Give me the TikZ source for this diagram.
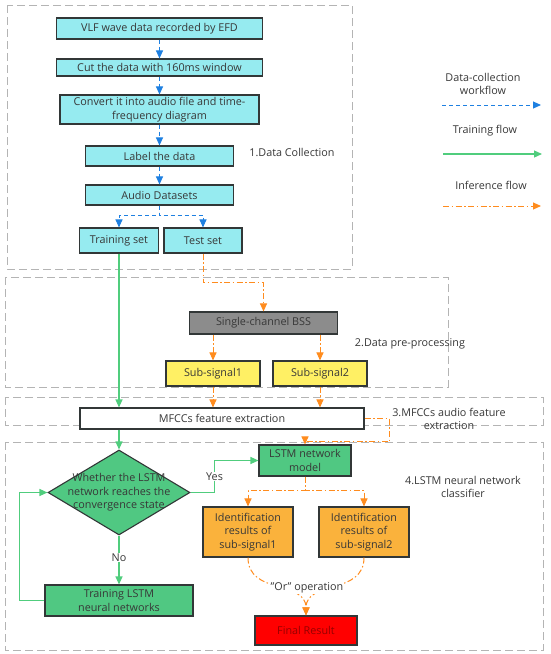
\documentclass[tikz,border=0pt]{standalone}
\usepackage{fontspec}
\setmainfont{Open Sans}
\usetikzlibrary{arrows.meta,shapes.geometric}

\definecolor{txt}{RGB}{55,55,55}
\definecolor{boxline}{RGB}{50,55,55}
\definecolor{regline}{RGB}{180,180,180}
\definecolor{cyanbox}{RGB}{150,235,240}
\definecolor{graybox}{RGB}{140,140,140}
\definecolor{yellowbox}{RGB}{255,240,100}
\definecolor{greenbox}{RGB}{80,200,130}
\definecolor{orangebox}{RGB}{250,178,60}
\definecolor{redbox}{RGB}{255,0,0}
\definecolor{redtxt}{RGB}{150,0,0}
\definecolor{blueflow}{RGB}{30,128,225}
\definecolor{greenflow}{RGB}{80,205,125}
\definecolor{orangeflow}{RGB}{255,140,30}

\begin{document}
\begin{tikzpicture}[x=1pt,y=-1pt,
  box/.style={draw=boxline, line width=1.1pt, text=txt, inner sep=1pt,
    align=center, font=\fontsize{10.8}{13.5}\selectfont},
  collect/.style={box, fill=cyanbox},
  tag/.style={text=txt, align=center, inner sep=1pt, font=\fontsize{10.8}{13.5}\selectfont},
  region/.style={draw=regline, line width=0.9pt, dash pattern=on 8pt off 4pt},
  bflow/.style={draw=blueflow, line width=1pt, dash pattern=on 4pt off 3pt,
    -{Triangle[length=8pt,width=7pt]}},
  gflow/.style={draw=greenflow, line width=1.2pt, -{Triangle[length=8pt,width=7pt]}},
  oflow/.style={draw=orangeflow, line width=1pt,
    dash pattern=on 6pt off 2.5pt on 1.5pt off 2.5pt,
    -{Triangle[length=8pt,width=7pt]}}
]
\useasboundingbox (0,0) rectangle (550,654);

  %% dashed regions
  \draw[region] (7,5) rectangle (352,269);
  \draw[region] (5,277) rectangle (448,387);
  \draw[region] (5,397) rectangle (543,425);
  \draw[region] (5,442) rectangle (543,650);

  \node[tag] (r1) at (292,152) {1.Data Collection};
  \node[tag] (r2) at (410,344) {2.Data pre-processing};
  \node[tag] (r3) at (449,419) {3.MFCCs audio feature\\extraction};
  \node[tag] (r4) at (463,487) {4.LSTM neural network\\classifier};

  %% 1. data collection
  \node[collect, minimum width=206pt, minimum height=21pt] (vlf) at (159.5,28.5) {VLF wave data recorded by EFD};
  \node[collect, minimum width=206pt, minimum height=17pt] (cut) at (159.5,67.5) {Cut the data with 160ms window};
  \node[collect, minimum width=199pt, minimum height=29pt] (conv) at (159.5,109.5) {Convert it into audio file and time-\\frequency diagram};
  \node[collect, minimum width=148pt, minimum height=20pt] (lab) at (159.5,156) {Label the data};
  \node[collect, minimum width=148pt, minimum height=20pt] (audio) at (159.5,195) {Audio Datasets};
  \node[collect, minimum width=79pt, minimum height=25pt] (train) at (119,240.5) {Training set};
  \node[collect, minimum width=78pt, minimum height=25pt] (test) at (203,240.5) {Test set};

  %% 2. pre-processing
  \node[box, fill=graybox, minimum width=148pt, minimum height=22pt] (bss) at (263.5,323) {Single-channel BSS};
  \node[box, fill=yellowbox, minimum width=94pt, minimum height=25pt] (sub1) at (213,373.5) {Sub-signal1};
  \node[box, fill=yellowbox, minimum width=94pt, minimum height=25pt] (sub2) at (320,373.5) {Sub-signal2};

  %% 3. features
  \node[box, fill=white, minimum width=284pt, minimum height=21pt] (mfcc) at (222,418.5) {MFCCs feature extraction};

  %% 4. classifier
  \node[draw=boxline, line width=1.1pt, fill=greenbox, diamond, inner sep=0pt,
    minimum width=142pt, minimum height=85pt] (dia) at (119,492.5) {};
  \node[tag] (diatxt) at (dia) {Whether the LSTM\\network reaches the\\convergence state};
  \node[box, fill=greenbox, minimum width=92pt, minimum height=31pt] (lstm) at (305,460.5) {LSTM network\\model};
  \node[box, fill=greenbox, minimum width=148pt, minimum height=31pt] (trainnet) at (119,600.5) {Training LSTM\\neural networks};
  \node[box, fill=orangebox, minimum width=90pt, minimum height=50pt] (id1) at (248,532) {Identification\\results of\\sub-signal1};
  \node[box, fill=orangebox, minimum width=90pt, minimum height=50pt] (id2) at (364,532) {Identification\\results of\\sub-signal2};
  \node[box, fill=redbox, text=redtxt, minimum width=102pt, minimum height=29pt] (fin) at (306,630.5) {Final Result};

  %% data-collection flow
  \draw[bflow] (vlf) -- (cut);
  \draw[bflow] (cut) -- (conv);
  \draw[bflow] (conv) -- (lab);
  \draw[bflow] (lab) -- (audio);
  \draw[bflow] (audio.south) -- ++(0,10) -| (train.north);
  \draw[bflow] (audio.south) -- ++(0,10) -| (test.north);

  %% training flow
  \draw[gflow] (train.south) -- (train.south |- mfcc.north);
  \draw[gflow] (dia.north |- mfcc.south) -- (dia.north);
  \draw[gflow] (dia.east) -- ++(24,0) |- (lstm.west) node[pos=0.25, tag, fill=white]{Yes};
  \draw[gflow] (dia.south) -- node[tag, fill=white, pos=0.45]{No} (trainnet.north);
  \draw[gflow] (trainnet.west) -- ++(-25,0) |- (dia.west);

  %% inference flow
  \draw[oflow] (test.south) -- ++(0,29) -| (bss.north);
  \draw[oflow] (sub1.north |- bss.south) -- (sub1.north);
  \draw[oflow] (sub2.north |- bss.south) -- (sub2.north);
  \draw[oflow] (sub1.south) -- (sub1.south |- mfcc.north);
  \draw[oflow] (sub2.south) -- (sub2.south |- mfcc.north);
  \draw[oflow] (mfcc.east) -- ++(25,0) -- ++(0,23) -| (lstm.north);
  \draw[oflow] (lstm.south) -- ++(0,14) -| (id1.north);
  \draw[oflow] (lstm.south) -- ++(0,14) -| (id2.north);
  \draw[oflow] (id1.south) .. controls (248,595) and (306,580) .. (fin.north);
  \draw[oflow] (id2.south) .. controls (364,595) and (306,580) .. (fin.north);
  \node[tag, fill=white] (orop) at (307,587.5) {"Or" operation};

  %% legend
  \node[tag] (lg1) at (483,84) {Data-collection\\workflow};
  \coordinate (lb1) at (442,105);
  \coordinate (le1) at (541,105);
  \draw[bflow] (lb1) -- (le1);
  \node[tag] (lg2) at (485,131) {Training flow};
  \coordinate (lb2) at (443,154);
  \coordinate (le2) at (542,154);
  \draw[gflow] (lb2) -- (le2);
  \node[tag] (lg3) at (491,185) {Inference flow};
  \coordinate (lb3) at (443,206);
  \coordinate (le3) at (541,206);
  \draw[oflow] (lb3) -- (le3);

\end{tikzpicture}
\end{document}
